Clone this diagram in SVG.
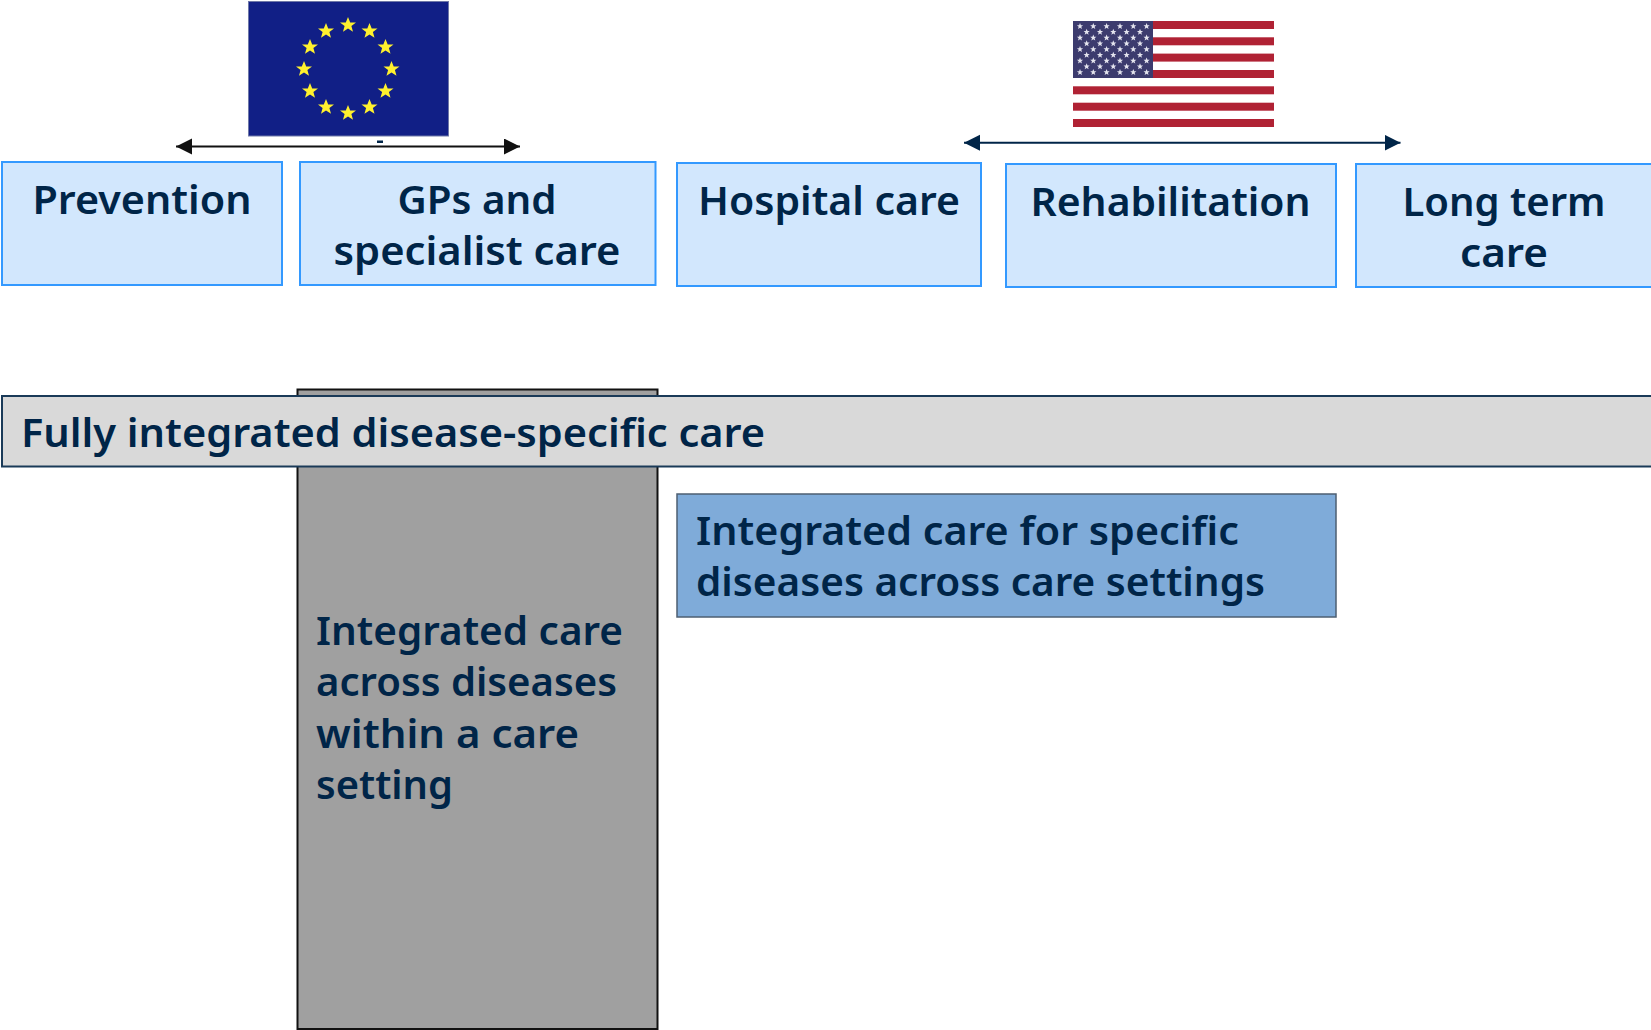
<svg xmlns="http://www.w3.org/2000/svg" xmlns:xlink="http://www.w3.org/1999/xlink" width="1651" height="1030" viewBox="0 0 1651 1030">
<style>
text{font-family:"Noto Sans","DejaVu Sans",sans-serif;font-weight:600;font-size:40px;fill:#002548}
.m{text-anchor:middle}
.h{fill:#d2e7fd;stroke:#3399ff;stroke-width:2}
.eu{fill:#fff12e}
.us{fill:#e4e4ee}
.r{fill:#b02234}
</style>
<defs>
<polygon id="s" points="0,-8 2.2,-2.6 8,-2.5 3.4,1.1 5,6.8 0,3.5 -5,6.8 -3.4,1.1 -8,-2.5 -2.2,-2.6"/>
<polygon id="u" points="0,-3.2 .9,-1 3.1,-1 1.3,.4 2,2.7 0,1.4 -2,2.7 -1.3,.4 -3.1,-1 -.9,-1"/>
<g id="r6"><use xlink:href="#u" x="0"/><use xlink:href="#u" x="13.3"/><use xlink:href="#u" x="26.6"/><use xlink:href="#u" x="40"/><use xlink:href="#u" x="53.3"/><use xlink:href="#u" x="66.6"/></g>
<g id="r5"><use xlink:href="#u" x="6.65"/><use xlink:href="#u" x="20"/><use xlink:href="#u" x="33.3"/><use xlink:href="#u" x="46.6"/><use xlink:href="#u" x="60"/></g>
<marker id="ak" markerUnits="userSpaceOnUse" markerWidth="17" markerHeight="18" refX="16" refY="8" orient="auto-start-reverse"><path d="M0,0L16,8L0,16Z" fill="#111"/></marker>
<marker id="an" markerUnits="userSpaceOnUse" markerWidth="17" markerHeight="18" refX="16" refY="8" orient="auto-start-reverse"><path d="M0,0L16,8L0,16Z" fill="#002548"/></marker>
</defs>
<rect width="1651" height="1030" fill="#fff"/>
<g id="flag-eu">
<rect x="248.500" y="1.500" width="200" height="134.500" fill="#111f86" stroke="#6f78a8" stroke-width="1"/>
<g class="eu">
<use xlink:href="#s" x="348" y="25"/><use xlink:href="#s" x="369.500" y="31"/><use xlink:href="#s" x="385.500" y="47"/><use xlink:href="#s" x="391.500" y="69"/><use xlink:href="#s" x="385.500" y="91"/><use xlink:href="#s" x="369.500" y="107"/><use xlink:href="#s" x="348" y="113"/><use xlink:href="#s" x="326" y="107"/><use xlink:href="#s" x="310" y="91"/><use xlink:href="#s" x="304" y="69"/><use xlink:href="#s" x="310" y="47"/><use xlink:href="#s" x="326" y="31"/>
</g>
</g>
<g id="flag-us">
<rect x="1073" y="21" width="201" height="106" fill="#fff"/>
<g class="r"><rect x="1073" y="21" width="201" height="8"/><rect x="1073" y="37.300" width="201" height="8"/><rect x="1073" y="53.600" width="201" height="8"/><rect x="1073" y="70" width="201" height="8"/><rect x="1073" y="86.300" width="201" height="8"/><rect x="1073" y="102.700" width="201" height="8"/><rect x="1073" y="119" width="201" height="8"/></g>
<rect x="1073" y="21" width="80" height="57" fill="#3c3b6e"/>
<g class="us">
<use xlink:href="#r6" x="1080" y="26.300"/><use xlink:href="#r5" x="1080" y="32"/><use xlink:href="#r6" x="1080" y="37.800"/><use xlink:href="#r5" x="1080" y="43.500"/><use xlink:href="#r6" x="1080" y="49.300"/><use xlink:href="#r5" x="1080" y="55"/><use xlink:href="#r6" x="1080" y="60.800"/><use xlink:href="#r5" x="1080" y="66.500"/><use xlink:href="#r6" x="1080" y="72.300"/>
</g>
</g>
<g id="connectors">
<line x1="176" y1="146.500" x2="520" y2="146.500" stroke="#111" stroke-width="2" marker-start="url(#ak)" marker-end="url(#ak)"/>
<line x1="964" y1="142.700" x2="1400.500" y2="142.700" stroke="#002548" stroke-width="2" marker-start="url(#an)" marker-end="url(#an)"/>
</g>
<rect x="377" y="140.500" width="6" height="2.500" fill="#002548"/>
<g id="prevention"><rect class="h" x="2" y="162" width="280" height="123"/><text class="m" x="142" y="213.500" textLength="219" lengthAdjust="spacingAndGlyphs">Prevention</text></g>
<g id="gps"><rect class="h" x="300" y="162" width="355.500" height="123"/><text class="m" x="477" y="213.500" textLength="159" lengthAdjust="spacingAndGlyphs">GPs and</text><text class="m" x="477" y="265" textLength="287" lengthAdjust="spacingAndGlyphs">specialist care</text></g>
<g id="hospital"><rect class="h" x="677" y="163" width="304" height="123"/><text class="m" x="829" y="214.500" textLength="262" lengthAdjust="spacingAndGlyphs">Hospital care</text></g>
<g id="rehab"><rect class="h" x="1006" y="164" width="330" height="123"/><text class="m" x="1170.500" y="215.500" textLength="280" lengthAdjust="spacingAndGlyphs">Rehabilitation</text></g>
<g id="longterm"><rect class="h" x="1356" y="164" width="300" height="123"/><text class="m" x="1504" y="215.500" textLength="203" lengthAdjust="spacingAndGlyphs">Long term</text><text class="m" x="1504" y="267" textLength="88" lengthAdjust="spacingAndGlyphs">care</text></g>
<g id="across-diseases"><rect x="297.500" y="389.500" width="360" height="639.500" fill="#a0a0a0" stroke="#111" stroke-width="2"/>
<text x="316" y="644.500" textLength="307" lengthAdjust="spacingAndGlyphs">Integrated care</text><text x="316" y="696" textLength="301" lengthAdjust="spacingAndGlyphs">across diseases</text><text x="316" y="747.500" textLength="263" lengthAdjust="spacingAndGlyphs">within a care</text><text x="316" y="799" textLength="137" lengthAdjust="spacingAndGlyphs">setting</text></g>
<g id="fully"><rect x="2" y="396" width="1655" height="70.500" fill="#d9d9d9" stroke="#1a3a58" stroke-width="2"/><text x="21" y="447" textLength="744" lengthAdjust="spacingAndGlyphs">Fully integrated disease-specific care</text></g>
<g id="specific"><rect x="677" y="494" width="659" height="123" fill="#7fabd9" stroke="#4d5f72" stroke-width="1.500"/><text x="696" y="545" textLength="543" lengthAdjust="spacingAndGlyphs">Integrated care for specific</text><text x="696" y="596" textLength="569" lengthAdjust="spacingAndGlyphs">diseases across care settings</text></g>
</svg>
